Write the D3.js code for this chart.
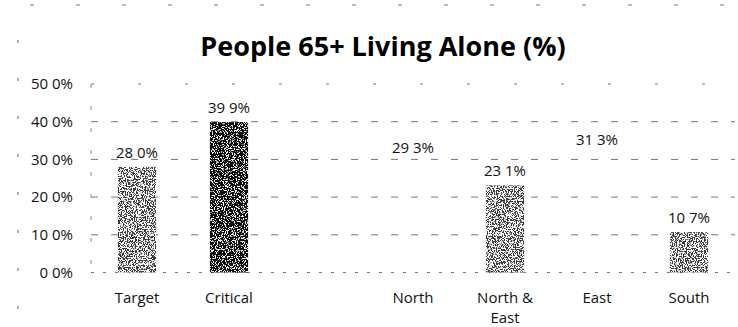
<!DOCTYPE html>
<html>
<head>
<meta charset="utf-8">
<script src="https://cdn.jsdelivr.net/npm/d3@7"></script>
<style>
  body { margin: 0; background: #fff; }
  svg { display: block; }
</style>
</head>
<body>
<script>
// chart data
const categories = ["Target", "Critical", "", "North", "North &|East", "East", "South"];
const values = [28.0, 39.9, null, 29.3, 23.1, 31.3, 10.7];
const valueLabels = ["28 0%", "39 9%", "", "29 3%", "23 1%", "31 3%", "10 7%"];
const barShade = ["mid", "dark", "none", "none", "mid", "none", "mid"];
const yTicks = [0, 10, 20, 30, 40, 50];
const yTickLabels = ["0 0%", "10 0%", "20 0%", "30 0%", "40 0%", "50 0%"];

const W = 738, H = 327;
const margin = { top: 84, right: 3, bottom: 55, left: 91 };
const width = W - margin.left - margin.right,
      height = H - margin.top - margin.bottom;
const font = "'Open Sans', 'DejaVu Sans', sans-serif";

const svg = d3.select("body").append("svg")
    .attr("width", W)
    .attr("height", H);

// stipple texture for the bars
const defs = svg.append("defs");
function stipple(id, freq, k, b, seed) {
  const f = defs.append("filter").attr("id", id)
      .attr("x", 0).attr("y", 0).attr("width", 1).attr("height", 1);
  f.append("feTurbulence").attr("type", "fractalNoise")
      .attr("baseFrequency", freq).attr("numOctaves", 2).attr("seed", seed).attr("result", "n");
  f.append("feColorMatrix").attr("in", "n").attr("type", "matrix")
      .attr("values", `0 0 0 0 1  0 0 0 0 1  0 0 0 0 1  ${k} 0 0 0 ${b}`).attr("result", "w");
  f.append("feComposite").attr("in", "w").attr("in2", "SourceGraphic").attr("operator", "in").attr("result", "wm");
  const m = f.append("feMerge");
  m.append("feMergeNode").attr("in", "SourceGraphic");
  m.append("feMergeNode").attr("in", "wm");
}
stipple("stipMid", 0.9, 14, -6.5, 4);
stipple("stipDark", 0.9, 14, -7.6, 7);

// scan border remains
svg.append("line")
    .attr("x1", 30).attr("x2", W).attr("y1", 5).attr("y2", 5)
    .attr("stroke", "#777").attr("stroke-width", 1.2)
    .attr("stroke-dasharray", "4 42");
svg.append("line")
    .attr("x1", 18).attr("x2", 18).attr("y1", 40).attr("y2", 320)
    .attr("stroke", "#777").attr("stroke-width", 1.2)
    .attr("stroke-dasharray", "3 35");

svg.append("text")
    .attr("x", 383).attr("y", 56)
    .attr("text-anchor", "middle")
    .style("font-family", font)
    .style("font-weight", "bold")
    .style("font-size", "27px")
    .attr("fill", "#000")
    .text("People 65+ Living Alone (%)");

const g = svg.append("g")
    .attr("transform", "translate(" + margin.left + "," + margin.top + ")");

const x = d3.scaleBand()
    .domain(d3.range(categories.length))
    .range([0, width])
    .paddingInner(0.585)
    .paddingOuter(0.2925);

const y = d3.scaleLinear()
    .domain([0, 50])
    .range([height + 0.5, 0]);

// gridlines
g.append("g")
    .selectAll("line")
    .data(yTicks.filter(d => d > 0))
    .join("line")
    .attr("x1", 0).attr("x2", width)
    .attr("y1", d => y(d)).attr("y2", d => y(d))
    .attr("stroke", "#777")
    .attr("stroke-width", 1)
    .attr("stroke-dasharray", d => d === 50 ? "3 44" : "7 13");

// baseline + axis line
g.append("line")
    .attr("x1", 0).attr("x2", width)
    .attr("y1", y(0)).attr("y2", y(0))
    .attr("stroke", "#777").attr("stroke-dasharray", "3 9");
g.append("line")
    .attr("x1", 0).attr("x2", 0)
    .attr("y1", y(50)).attr("y2", y(0))
    .attr("stroke", "#888").attr("stroke-dasharray", "4 18");

// y axis labels
const yAxis = g.append("g")
    .call(d3.axisLeft(y).tickValues(yTicks).tickSize(0).tickPadding(18)
        .tickFormat((d, i) => yTickLabels[i]));
yAxis.select(".domain").remove();
yAxis.selectAll("text")
    .style("font-family", font)
    .style("font-size", "15px")
    .attr("fill", "#111");

// bars
g.append("g")
    .selectAll("rect")
    .data(values.map((v, i) => ({ v, i })).filter(d => d.v !== null && barShade[d.i] !== "none"))
    .join("rect")
    .attr("x", d => x(d.i))
    .attr("width", x.bandwidth())
    .attr("y", d => y(d.v))
    .attr("height", d => y(0) - y(d.v))
    .attr("fill", d => barShade[d.i] === "dark" ? "#0d0d0d" : "#3a3a3a")
    .attr("filter", d => barShade[d.i] === "dark" ? "url(#stipDark)" : "url(#stipMid)");

// value labels
g.append("g")
    .selectAll("text")
    .data(values.map((v, i) => ({ v, i })).filter(d => d.v !== null))
    .join("text")
    .attr("x", d => x(d.i) + x.bandwidth() / 2)
    .attr("y", d => y(d.v) - 9)
    .attr("text-anchor", "middle")
    .style("font-family", font)
    .style("font-size", "15px")
    .attr("fill", "#111")
    .text(d => valueLabels[d.i]);

// category labels
const xAxis = g.append("g")
    .attr("transform", "translate(0," + height + ")")
    .call(d3.axisBottom(x).tickSize(0).tickPadding(0).tickFormat(() => ""));
xAxis.select(".domain").remove();
xAxis.selectAll(".tick").each(function (d) {
  const t = d3.select(this).append("text")
      .attr("text-anchor", "middle")
      .attr("y", 31)
      .style("font-family", font)
      .style("font-size", "15px")
      .attr("fill", "#111");
  categories[d].split("|").forEach((line, k) => {
    t.append("tspan").attr("x", 0).attr("dy", k === 0 ? 0 : 20).text(line);
  });
});
</script>
</body>
</html>
